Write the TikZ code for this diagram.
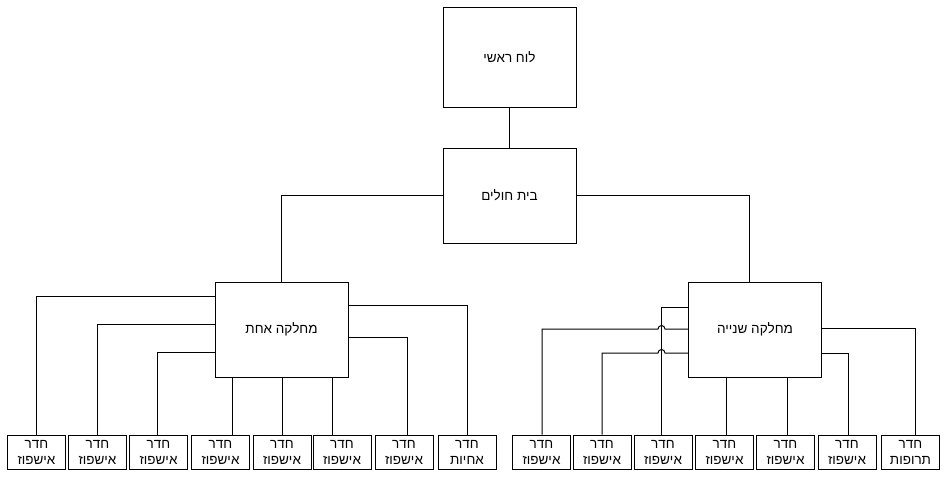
\documentclass[tikz,border=0pt]{standalone}
\usepackage{fontspec}
\newfontfamily\hebfont[Script=Hebrew]{Liberation Sans}
\TeXXeTstate=1
\newcommand{\rtl}[1]{\beginR#1\endR}
\begin{document}
\begin{tikzpicture}[x=1pt,y=-1pt,line width=1pt,
		unit/.style={draw,rectangle,minimum width=133pt,minimum height=95pt,inner sep=0pt,font=\hebfont\fontsize{13.5}{16}\selectfont},
		room/.style={draw,rectangle,minimum width=58pt,minimum height=34pt,inner sep=0pt,align=center,font=\hebfont\fontsize{13.5}{16}\selectfont}]
		\useasboundingbox (0,0) rectangle (948,477);
		\def\roomy{452}
		\def\hop{3.5}
		% top of the tree
			\node [unit,minimum height=100pt] (board) at (509.5,57) {\rtl{לוח ראשי}};
			\node [unit] (hospital) at (509.5,195.5) {\rtl{בית חולים}};
			\node [unit] (deptA) at (281.5,329.5) {\rtl{מחלקה אחת}};
			\node [unit] (deptB) at (755,329.5) {\rtl{מחלקה שנייה}};
		% rooms
			\foreach \x [count=\i] in {36.5,97.5,158.5,220.5,282,342,404}
				\node [room] (a\i) at (\x,\roomy) {\rtl{חדר}\\\rtl{אישפוז}};
			\node [room] (a8) at (467,\roomy) {\rtl{חדר}\\\rtl{אחיות}};
			\foreach \x [count=\i] in {541.5,602,663,724.5,785.5,847}
				\node [room] (b\i) at (\x,\roomy) {\rtl{חדר}\\\rtl{אישפוז}};
			\node [room] (b7) at (910.5,\roomy) {\rtl{חדר}\\\rtl{תרופות}};
		% hospital
			\draw (board) -- (hospital);
			\draw (hospital.west) -| (deptA.north);
			\draw (hospital.east) -| (749,0 |- deptB.north);
		% department one
			\draw (deptA.west |- 0,296) -| (a1.north);
			\draw (deptA.west |- 0,324) -| (97,0 |- a2.north);
			\draw (deptA.west |- 0,352) -| (157,0 |- a3.north);
			\draw (232,0 |- deptA.south) -- (232,0 |- a4.north);
			\draw (282,0 |- deptA.south) -- (282,0 |- a5.north);
			\draw (332,0 |- deptA.south) -- (332,0 |- a6.north);
			\draw (deptA.east |- 0,337) -| (407,0 |- a7.north);
			\draw (deptA.east |- 0,305) -| (a8.north);
		% department two
			\draw (deptB.west |- 0,307) -| (661.5,0 |- b3.north);
			\draw (deptB.west |- 0,329) -- (661.5+\hop,329) arc [start angle=0,end angle=-180,radius=\hop] -| (542,0 |- b1.north);
			\draw (deptB.west |- 0,353) -- (661.5+\hop,353) arc [start angle=0,end angle=-180,radius=\hop] -| (602,0 |- b2.north);
			\draw (726,0 |- deptB.south) -- (726,0 |- b4.north);
			\draw (787,0 |- deptB.south) -- (787,0 |- b5.north);
			\draw (deptB.east |- 0,353) -| (848,0 |- b6.north);
			\draw (deptB.east |- 0,328) -| (915,0 |- b7.north);
	\end{tikzpicture}
\end{document}
